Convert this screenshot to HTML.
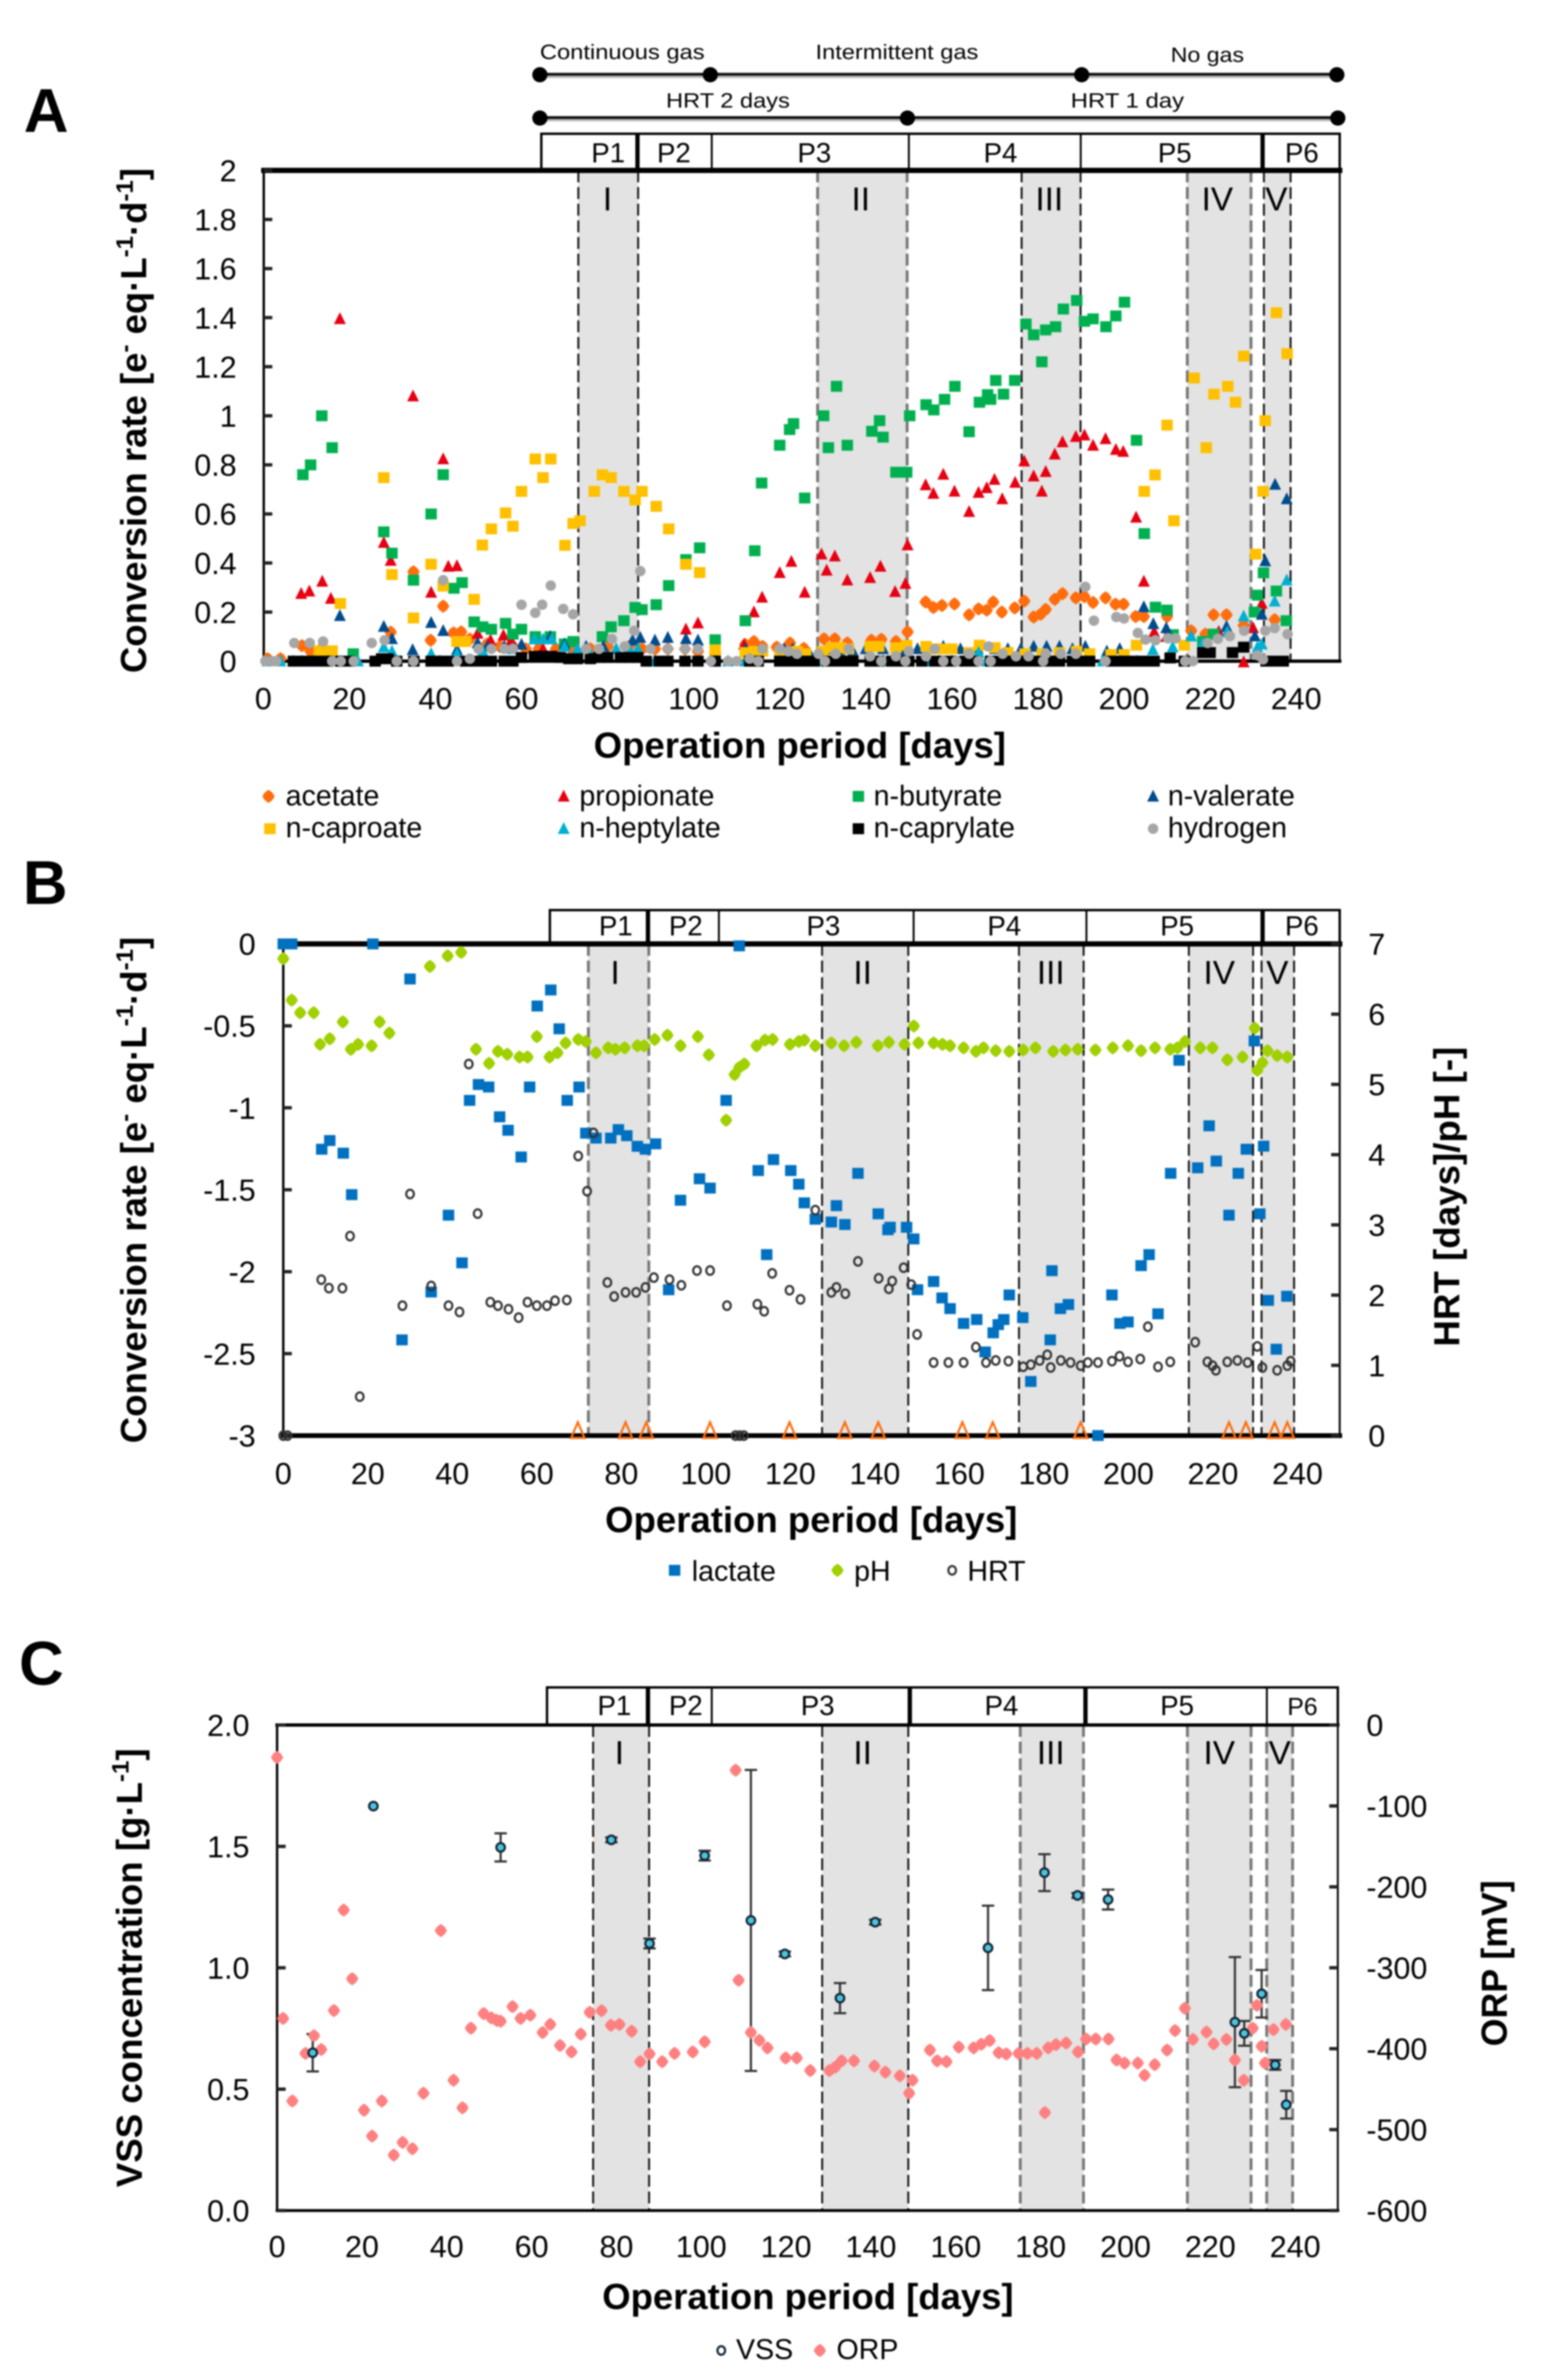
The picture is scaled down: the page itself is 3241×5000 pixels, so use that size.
<!DOCTYPE html>
<html lang="en">
<head>
<meta charset="utf-8">
<title>Operation period charts</title>
<style>
html,body{margin:0;padding:0;background:#fff}
svg{display:block;filter:blur(1.5px)}
text{font-family:"Liberation Sans",Arial,sans-serif;fill:#000}
.tit{font-weight:700;font-size:76px}
.tick{font-size:64px}
.per{font-size:58px}
.rom{font-size:70px}
.ann{font-size:44px}
.leg{font-size:60px}
.pan{font-weight:700;font-size:130px}
</style>
</head>
<body>
<svg id="fig" xmlns="http://www.w3.org/2000/svg" width="3241" height="5000" viewBox="0 0 3241 5000">
<rect width="3241" height="5000" fill="#fff"/>
<g id="shades"></g>
<g id="axes"></g>

<text class="pan" x="50" y="277">A</text>
<text class="pan" x="48" y="1899">B</text>
<text class="pan" x="40" y="3539">C</text>

<g>
<line x1="1134" y1="161" x2="2808" y2="161" stroke="#bbb" stroke-width="6"/>
<line x1="1134" y1="156" x2="2808" y2="156" stroke="#111" stroke-width="6"/>
<line x1="1134" y1="252" x2="2810" y2="252" stroke="#bbb" stroke-width="6"/>
<line x1="1134" y1="247" x2="2810" y2="247" stroke="#111" stroke-width="6"/>
<circle cx="1134" cy="157" r="16"/>
<circle cx="1492" cy="157" r="16"/>
<circle cx="2272" cy="157" r="16"/>
<circle cx="2808" cy="157" r="16"/>
<circle cx="1134" cy="248" r="16"/>
<circle cx="1906" cy="248" r="16"/>
<circle cx="2810" cy="248" r="16"/>
<text class="ann" x="1134" y="124" textLength="346" lengthAdjust="spacingAndGlyphs">Continuous gas</text>
<text class="ann" x="1713" y="124" textLength="342" lengthAdjust="spacingAndGlyphs">Intermittent gas</text>
<text class="ann" x="2459" y="130" textLength="154" lengthAdjust="spacingAndGlyphs">No gas</text>
<text class="ann" x="1399" y="226" textLength="260" lengthAdjust="spacingAndGlyphs">HRT 2 days</text>
<text class="ann" x="2249" y="226" textLength="238" lengthAdjust="spacingAndGlyphs">HRT 1 day</text>
</g>

<text class="tit" x="1247" y="1592" textLength="866" lengthAdjust="spacingAndGlyphs">Operation period [days]</text>
<text class="tit" x="1271" y="3219" textLength="866" lengthAdjust="spacingAndGlyphs">Operation period [days]</text>
<text class="tit" x="1265" y="4851" textLength="864" lengthAdjust="spacingAndGlyphs">Operation period [days]</text>

<text class="tit" transform="translate(307,1414) rotate(-90)" textLength="1061" lengthAdjust="spacingAndGlyphs">Conversion rate [e<tspan dy="-28" font-size="50">-</tspan><tspan dy="28"> eq·L</tspan><tspan dy="-28" font-size="50">-1</tspan><tspan dy="28">·d</tspan><tspan dy="-28" font-size="50">-1</tspan><tspan dy="28">]</tspan></text>
<text class="tit" transform="translate(307,3032) rotate(-90)" textLength="1064" lengthAdjust="spacingAndGlyphs">Conversion rate [e<tspan dy="-28" font-size="50">-</tspan><tspan dy="28"> eq·L</tspan><tspan dy="-28" font-size="50">-1</tspan><tspan dy="28">·d</tspan><tspan dy="-28" font-size="50">-1</tspan><tspan dy="28">]</tspan></text>
<text class="tit" transform="translate(298,4595) rotate(-90)" textLength="922" lengthAdjust="spacingAndGlyphs">VSS concentration [g·L<tspan dy="-28" font-size="50">-1</tspan><tspan dy="28">]</tspan></text>
<text class="tit" transform="translate(3065,2829) rotate(-90)" textLength="630" lengthAdjust="spacingAndGlyphs">HRT [days]/pH [-]</text>
<text class="tit" transform="translate(3165,4299) rotate(-90)" textLength="349" lengthAdjust="spacingAndGlyphs">ORP [mV]</text>

<g id="marks"></g>
<g id="legend"></g>
</svg>

<script>
// ---------- shared categories ----------
var xTickValues = [0,20,40,60,80,100,120,140,160,180,200,220,240];
var yTickLabelsA = ["0","0.2","0.4","0.6","0.8","1","1.2","1.4","1.6","1.8","2"];
var yTickLabelsB = ["0","-0.5","-1","-1.5","-2","-2.5","-3"];
var y2TickLabelsB = ["0","1","2","3","4","5","6","7"];
var yTickLabelsC = ["0.0","0.5","1.0","1.5","2.0"];
var y2TickLabelsC = ["0","-100","-200","-300","-400","-500","-600"];
var periodNames = ["P1","P2","P3","P4","P5","P6"];
var phaseNames = ["I","II","III","IV","V"];
var phaseStartA = [73.2,128.8,176.2,214.7,232.5];
var phaseEndA = [87.1,149.6,189.9,229.5,238.7];
var phaseStartB = [72.2,127.5,174.1,214.3,231.5];
var phaseEndB = [86.5,147.9,189.4,229.5,239.2];
var phaseStartC = [74.5,128.5,175.2,214.6,233.3];
var phaseEndC = [87.7,148.8,190.1,229.6,239.4];

// ---------- panel A series ----------
var acetateDays = [1,4,9,11,13.8,29.6,34.9,38.9,41.8,44.2,
46,48,52,55,58,61,64,68,72,76,
80,85,88,91,94,98,101,105,112,114,
116,119.3,122.4,125.6,130.3,132.8,135.7,141.3,143.6,147,
149.7,153.9,155.7,157.7,160.6,164,166.2,168.1,169.6,171.6,
174.6,176.8,179,180.6,181.8,183.9,185.7,188.8,190.8,192.8,
195.7,198,199.9,202.7,204.6,210,215.6,218.9,220.8,223.8,
227.8,235];
var acetateRates = [.01,.01,.063,.04,.057,.118,.364,.085,.224,.115,
.119,.09,.07,.06,.06,.05,.05,.05,.04,.05,
.06,.06,.05,.05,.05,.05,.04,.03,.068,.08,
.06,.057,.074,.052,.091,.091,.074,.085,.089,.08,
.119,.241,.219,.227,.233,.189,.213,.208,.241,.2,
.217,.245,.18,.191,.211,.252,.275,.258,.263,.239,
.258,.232,.232,.182,.182,.182,.124,.11,.189,.189,
.146,.169];
var propionateDays = [8.8,10.7,13.7,15.7,17.8,28,29.6,34.8,39,41.8,
43,45,49.8,52.8,55.8,57.6,65,87,98.2,101,
111.7,114,115.9,120,122.7,125.8,129.7,130.9,132.8,135.7,
141,143.4,146.8,149.2,149.7,153.9,155.7,158,160.6,164,
166.2,168.1,169.9,171.7,174.7,176.8,179,180.9,181.8,183.9,
185.7,188.8,190.8,192.8,195.7,198.1,199.8,202.8,204.6,207,
209.8,222,227.8,230,232];
var propionateRates = [.275,.285,.325,.255,1.395,.483,.41,1.08,.28,.824,
.386,.388,.113,.085,.105,.085,.05,.05,.13,.155,
.068,.20,.26,.36,.406,.28,.436,.37,.428,.33,
.34,.386,.283,.316,.473,.718,.683,.761,.692,.609,
.687,.706,.74,.661,.728,.815,.754,.692,.772,.843,
.893,.915,.921,.879,.906,.862,.854,.586,.325,.119,
.1,.12,-.004,.135,.235];
var butyrateDays = [9.2,11,13.6,16,20.9,28,29.9,34.9,39,41.8,
44.3,46.2,49,51,53,56.3,58,60,63.2,66.7,
70,72,78.8,80.8,83.8,86.4,88,91.3,94.2,98.2,
101.4,105,112,114.2,115.8,120,122.3,123.2,125.8,130.2,
131.3,133.2,135.7,141.4,143.2,144,147,149.5,150.2,154,
155.8,158.3,160.7,164,166.4,168.3,169,170.2,172,174.6,
177.2,179,180.9,181.8,184.1,185.9,189,190.8,192.8,195.8,
198.1,200.1,202.9,204.7,207.3,210,211.4,218.3,220.8,230.3,
231,232.4,235.4,237.7];
var butyrateRates = [.76,.80,1.0,.87,.03,.527,.44,.33,.60,.76,
.297,.32,.16,.14,.13,.154,.11,.13,.10,.10,
.07,.08,.10,.14,.165,.219,.21,.23,.308,.414,
.462,.087,.165,.45,.726,.88,.944,.968,.665,1.0,
.87,1.12,.88,.937,.98,.913,.77,.77,1.0,1.045,
1.024,1.067,1.12,.935,1.055,1.086,1.067,1.144,1.088,1.144,
1.374,1.33,1.22,1.35,1.363,1.435,1.47,1.385,1.395,1.363,
1.407,1.463,.9,.52,.22,.208,.108,.08,.11,.20,
.269,.36,.286,.165];
var valerateDays = [17.8,28,29.9,34.7,39,41.8,45,49.8,52,56,
60,63,66.7,70,75,79,85.8,87.6,91,94,
98.2,101,112,115,121,123,127,131,134,137,
140,144,148,152,155,158,162,166,170,173,
176,179,182,185,188,191,196,199,204.6,206.8,
209.8,223.8,230.4,232,232.8,235.1,237.8];
var valerateRates = [.185,.141,.091,.046,.157,.124,.046,.074,.06,.06,
.068,.09,.10,.07,.06,.06,.085,.096,.085,.096,
.091,.085,.05,.04,.05,.05,.03,.05,.04,.04,
.05,.05,.04,.05,.05,.06,.05,.05,.05,.05,
.05,.06,.06,.06,.05,.06,.04,.05,.221,.152,
.135,.141,.102,.19,.408,.72,.661];
var caproateDays = [13,14.5,16,17.9,28,29.9,34.9,39,41.8,45,
47,49,50.9,53,56.3,58,60,63.2,65,66.8,
70.1,72,73.6,76.9,78.8,80.8,83.8,86.4,88,91.3,
94.2,98.2,101.4,105,112,114,116,120,122,124,
126,130,132,134,136,141,143,147,149.5,154,
156,158,160,164,166.4,170,173,177,181,185,
189,192,197,200,202.9,204.7,207.2,210,211.6,214,
216.3,219.1,220.9,224.1,225.9,227.8,230.6,232.3,232.8,235.4,
237.9];
var caproateRates = [.042,.042,.042,.235,.748,.353,.176,.395,.306,.08,
.08,.252,.473,.539,.604,.55,.692,.824,.748,.824,
.472,.561,.572,.692,.759,.748,.692,.657,.692,.631,
.539,.395,.361,.046,.035,.04,.04,.03,.03,.04,
.03,.04,.055,.055,.05,.06,.06,.055,.065,.06,
.05,.05,.05,.035,.065,.055,.035,.03,.03,.035,
.04,.03,.027,.027,.065,.692,.759,.962,.572,.065,
1.154,.87,1.088,1.12,1.055,1.243,.436,.692,.98,1.42,
1.253];
var heptylateDays = [1,4,7,9,12,15,18,22,28,29.9,
31,39,41,45,51,58,63,65,67,70,
73,76,79,82,85,87,91,94,98,105,
108,112,115,120,123,130,133,141,144,148,
154,157,160,166.2,168,170,173,176,179,182,
185,188,191,195,199,203,206.7,211.3,215.6,218.3,
224,227.8,231,232,235,237.8];
var heptylateRates = [0,0,0,0,0,0,0,0,.057,.04,
0,.03,0,.03,.04,.05,.09,.09,.09,.06,
.05,.03,.03,.05,.05,.05,0,0,0,0,
0,0,0,0,0,0,0,0,0,0,
0,0,0,.035,0,0,0,0,0,0,
0,0,0,0,0,0,.046,.057,.102,.074,
.119,.183,.057,.069,.244,.33];
var caprylateDays = [7,9,11,13,15,18,20,26,27.5,29,
31,35,39,41,43,47,49,51,53,56,
58,60,63,65,67,69,71,73,76,78,
80,83,85,87,89,92,94,98,101,105,
113,115,120,122,124,126,128,131,133,135,
137,141,143,146,148,150,153,156,158,160,
163,165,169,171,173,175,177,179,181,183,
185,188,190,192,197,199,201,203,205,207,
210.7,214,218.3,220,225.2,227.8,233,235,237];
var caprylateRates = [0,0,0,0,0,0,0,0,.01,.01,
0,0,0,0,0,0,0,0,0,0,
0,.015,.02,.02,.02,.015,.01,.01,.01,.015,
.015,.015,.015,.015,0,0,0,0,0,0,
0,0,0,0,0,0,0,0,0,0,
0,0,0,0,0,0,0,0,0,0,
0,0,0,0,0,0,0,0,0,0,
0,0,0,0,0,0,0,0,0,0,
.013,0,.035,.035,.035,.057,0,0,0];
var hydrogenDays = [0.5,2,3,7.2,10.8,13.9,16,18,21,25.2,
28.2,31,34.9,41.8,45,48,50,53,56,58,
60,63.2,64.8,66.8,69.7,72,75,78,81,84,
86.2,87.6,90,94,98,101,104,108,110,113,
115,116,120,122,124,129,130.5,133,136,141,
143.6,147,149.2,150,154,156,158,161,164,166.2,
168.5,169,171.8,174.9,177.8,181.2,181.8,185.3,188.8,191,
193,195.7,198.2,200,203.2,205,207.3,210.2,212,214.2,
216,219.4,221.8,224.6,227.9,231,232.3,232.8,235,238];
var hydrogenRates = [0,0,0,.074,.074,.08,0,0,0,.074,
.085,0,0,.33,0,.01,.05,.05,.05,.05,
.23,.197,.23,.308,.213,.191,.05,.05,.09,.06,
.124,.367,.05,.05,.05,.05,0,0,0,.01,
0,.05,.05,.04,.03,.03,0,.03,.05,.02,
0,.02,0,.04,.02,.05,0,0,.03,0,
.06,0,.03,.02,.02,0,.03,.03,.03,.303,
.165,0,.18,.174,.115,.088,.085,.093,.093,0,
0,.074,.091,.102,.124,.024,.007,.124,.135,.11];

// ---------- panel B series ----------
var lactateDays = [0,2,9.1,11,14.2,16.2,21.2,28.1,30,35,
39.1,42.3,44.1,46.2,48.6,51.2,53.2,56.3,58.3,60.1,
63.3,65.3,67.2,70,71.6,74,77.5,79.3,81.3,83.8,
85.7,88.1,91.2,94,98.5,101,104.8,107.9,112.4,114.4,
116,120.1,122,123.3,125.9,129.7,130.9,132.9,136,140.8,
143.1,143.6,147.5,149.2,150.1,153.9,155.9,157.8,161,164.1,
166.1,168,169.2,170.5,171.8,175,176.9,181.5,181.9,183.9,
185.8,192.8,196.1,198,199.9,203,204.9,207,210,212,
216.4,219.1,220.8,223.8,226,227.9,229.8,231.1,232,233.1,
235,237.5];
var lactateRates = [0,0,-1.253,-1.2,-1.277,-1.53,0,-2.416,-.214,-2.124,
-1.655,-1.946,-.955,-.858,-.873,-1.055,-1.137,-1.3,-.873,-.379,
-.281,-.518,-.955,-.873,-1.155,-1.185,-1.185,-1.133,-1.17,-1.235,
-1.253,-1.22,-2.11,-1.564,-1.433,-1.49,-.955,-.012,-1.383,-1.896,
-1.316,-1.383,-1.466,-1.58,-1.68,-1.697,-1.597,-1.712,-1.4,-1.647,
-1.744,-1.729,-1.729,-1.8,-2.11,-2.06,-2.16,-2.225,-2.316,-2.292,
-2.49,-2.373,-2.323,-2.292,-2.142,-2.28,-2.67,-2.416,-1.994,-2.225,
-2.2,-3,-2.142,-2.316,-2.307,-1.963,-1.896,-2.257,-1.4,-.71,
-1.366,-1.11,-1.325,-1.655,-1.4,-1.253,-.592,-1.647,-1.234,-2.175,
-2.473,-2.15];
var phDays = [0,2,4,7.2,8.7,11,14.1,16,17.7,20.9,
22.8,25.1,34.7,38.9,42.1,45.6,48.7,50.8,53,55.9,
57.8,60,63,64.9,66.8,69.8,71.6,74,76.9,78.6,
80.8,83.8,85.4,87.9,90.9,94,98.1,100.7,104.8,106.8,
107.9,109.1,112,114,115.8,119.9,122,123.3,125.9,129.7,
132.7,135.6,140.7,143.3,147,149.2,150.3,153.9,156,157.8,
161,163.9,165.7,168.6,171.8,175.1,178,182.2,185.1,188,
192.2,196.3,199.9,203,206.3,209.9,211.6,213.4,217,219.9,
223.4,227,229.9,230.5,231.7,232.9,235.2,237.6];
var phValues = [6.79,6.2,6.02,6.02,5.57,5.65,5.89,5.5,5.57,5.55,
5.89,5.73,6.68,6.83,6.88,5.5,5.3,5.47,5.43,5.39,
5.39,5.68,5.39,5.45,5.59,5.64,5.61,5.45,5.52,5.5,
5.52,5.55,5.55,5.64,5.7,5.55,5.68,5.42,4.49,5.14,
5.24,5.29,5.55,5.63,5.64,5.57,5.61,5.63,5.55,5.59,
5.55,5.6,5.55,5.6,5.57,5.83,5.59,5.59,5.57,5.55,
5.52,5.47,5.52,5.48,5.47,5.49,5.52,5.47,5.49,5.5,
5.49,5.52,5.55,5.48,5.52,5.5,5.52,5.61,5.52,5.52,
5.35,5.39,5.8,5.2,5.31,5.48,5.41,5.39];
var hrtDays = [0,1,9,10.8,14,15.8,18.1,28.2,30,35,
39.1,41.7,43.9,46,49,50.8,53.3,55.7,57.8,60,
62.4,64.3,67.1,69.8,71.9,73.4,76.7,78.3,81,83.5,
85.7,87.7,91.4,94.2,97.9,101,105,107,108,109,
112.2,113.8,115.7,119.8,122.4,125.9,129.7,130.9,133,136,
140.9,143.3,144.1,146.8,148.6,150,153.9,157.4,161,163.9,
166.3,168.6,171.6,175.1,176.9,179,180.8,181.6,184,186.3,
188.7,190.4,192.8,196.1,197.9,199.9,202.8,204.6,207,209.9,
215.8,218.7,219.9,220.7,223.4,225.8,228.2,230.5,231.7,235.2,
237.6,238.4];
var hrtValues = [0,0,2.22,2.1,2.1,2.84,.555,1.85,3.44,2.13,
1.85,1.76,5.29,3.16,1.9,1.85,1.8,1.68,1.9,1.85,
1.85,1.92,1.93,3.98,3.48,4.31,2.18,1.98,2.04,2.04,
2.11,2.25,2.22,2.14,2.35,2.35,1.85,0,0,0,
1.87,1.77,2.31,2.07,1.94,3.21,2.04,2.11,2.02,2.48,
2.24,2.09,2.2,2.39,2.15,1.44,1.04,1.04,1.04,1.26,
1.04,1.07,1.06,.98,1.01,1.07,1.15,.97,1.07,1.04,
.996,1.04,1.04,1.06,1.13,1.05,1.09,1.55,.98,1.05,
1.33,1.05,.996,.93,1.05,1.07,1.04,1.27,.97,.93,
.996,1.06];
var traceDays = [69.7,81,85.9,101,119.8,132.9,140.8,160.7,167.9,188.7,223.8,227.8,234.6,237.6];
var traceRates = [-3,-3,-3,-3,-3,-3,-3,-3,-3,-3,-3,-3,-3,-3];

// ---------- panel C series ----------
var orpDays = [0,1.4,3.6,6.7,8.7,10.4,13.4,15.7,17.7,20.5,
22.4,24.7,27.5,29.6,31.9,34.5,38.6,41.6,43.7,45.7,
48.7,50.5,51.8,52.7,55.5,57.4,59.7,62.6,64.4,66.7,
69.4,71.6,73.7,76.5,78.7,80.7,83.6,85.6,87.8,90.8,
93.7,98,100.8,108.1,108.8,111.7,113.7,115.6,119.9,122.5,
125.7,130.2,131.6,133.1,136,140.8,143.4,146.8,149,149.8,
153.9,155.6,157.8,160.7,164.2,166,168,170.1,171.9,174.8,
176.9,179.1,181,181.8,183.6,186,188.8,190.7,193,196,
197.9,199.8,202.9,204.5,206.9,209.8,211.7,214,215.9,219.1,
220.8,223.8,225.8,227.9,230,231,232.1,232.9,234.9,237.8];
var orpValues = [-40,-362.6,-464.6,-405.8,-384,-401,-352.9,-228.7,-313.5,-476,
-508,-464.6,-531.5,-515.8,-523.6,-455,-254,-439,-473,-374.6,
-356.6,-361.9,-365,-366,-348,-362.6,-358.5,-380,-370,-396,
-404,-382,-355,-353,-371,-370,-378.4,-416,-406.5,-416,
-405.8,-404,-391.5,-55.8,-315.4,-380,-389.7,-399,-411.4,-411.4,
-427,-427,-422.7,-415,-415,-421.5,-429,-433.5,-455,-439,
-401.7,-415,-416,-398,-399,-394.5,-390,-405,-406.5,-405.8,
-405.8,-405.8,-479,-399,-395,-393,-404,-388,-388,-388,
-414,-417.8,-417.8,-432.8,-419.7,-401.7,-377.6,-350,-388.5,-379.5,
-394,-388.5,-414,-439,-374.6,-346.5,-397,-417.8,-376.5,-370];
var vssDays = [8.4,22.7,52.7,78.8,87.8,100.8,111.7,119.7,132.7,141,167.6,180.9,188.7,195.9,225.8,228,232.1,235.3,237.9];
var vssValues = [.65,1.666,1.496,1.527,1.1,1.462,1.195,1.057,.875,1.188,1.082,1.392,1.298,1.281,.776,.73,.893,.6,.436];
var vssErrors = [.077,0,.058,.01,.02,.02,.62,.01,.062,.01,.174,.076,.01,.041,.268,.051,.098,.02,.057];

// ---------- axis functions ----------
function xA(d){return 553+d*9.04;}
function yA(v){return 1389-v*515.5;}
function xB(d){return 595+d*8.876;}
function yB(v){return 1983-v*344.3;}
function y2B(v){return 3016-v*147.57;}
function xC(d){return 582+d*8.91;}
function yC(v){return 4644-v*510;}
function y2C(v){return 3624-v*1020/600;}

var NS = "http://www.w3.org/2000/svg";
var shades = document.getElementById("shades");
var axes = document.getElementById("axes");
var marks = document.getElementById("marks");
var legend = document.getElementById("legend");

function svgEl(tag, attrs, parent){
  var el = document.createElementNS(NS, tag);
  for (var k in attrs) el.setAttribute(k, attrs[k]);
  parent.appendChild(el);
  return el;
}
function shapePath(shape, cx, cy){
  if (shape === "square") return "M"+(cx-12)+" "+(cy-11.5)+"h24v23h-24z";
  if (shape === "tri") return "M"+cx+" "+(cy-14)+"L"+(cx+12.5)+" "+(cy+11)+"H"+(cx-12.5)+"z";
  if (shape === "triTall") return "M"+cx+" "+(cy-28)+"L"+(cx+14)+" "+(cy+5)+"H"+(cx-14)+"z";
  if (shape === "dia") return "M"+cx+" "+(cy-14)+"L"+(cx+8)+" "+(cy-8)+"L"+(cx+13)+" "+cy+"L"+(cx+8)+" "+(cy+8)+"L"+cx+" "+(cy+14)+"L"+(cx-8)+" "+(cy+8)+"L"+(cx-13)+" "+cy+"L"+(cx-8)+" "+(cy-8)+"z";
  if (shape === "ring") return "M"+(cx-8)+" "+cy+"a8 9 0 1 0 16 0a8 9 0 1 0 -16 0z";
  return "M"+(cx-11)+" "+cy+"a11 11 0 1 0 22 0a11 11 0 1 0 -22 0z";
}
function drawSeries(days, vals, xf, yf, shape, color, name, stroke){
  var g = svgEl("g", {}, marks);
  
  
  for (var i = 0; i < days.length; i++){
    var el = svgEl("path", {d: shapePath(shape, xf(days[i]), yf(vals[i])), fill: stroke ? "none" : color}, g);
    if (stroke){ el.setAttribute("stroke", stroke); el.setAttribute("stroke-width", "4.5"); }
    
    
  }
}
function drawPhases(starts, ends, xf, top, bottom, romanBaseline, romanX, panel, greyFlags){
  for (var i = 0; i < starts.length; i++){
    var x0 = xf(starts[i]), x1 = xf(ends[i]);
    var r = svgEl("rect", {x:x0, y:top, width:x1-x0, height:bottom-top, fill:"#e3e3e3"}, shades);
    
    
    [x0, x1].forEach(function(x){
      var l = svgEl("line", {x1:x, x2:x, y1:top, y2:bottom, stroke:greyFlags[i] ? "#777" : "#111", "stroke-width":greyFlags[i] ? 6 : 4, "stroke-dasharray":"25 10"}, shades);
      
      
    });
    var t = svgEl("text", {x:romanX[i], y:romanBaseline, "text-anchor":"middle", "class":"rom"}, shades);
    t.textContent = phaseNames[i];
    
    
  }
}
function drawPeriodBox(top, bottom, edges, thick, baseline, textX, panel, smallLast){
  var outer = svgEl("rect", {x:edges[0], y:top, width:edges[edges.length-1]-edges[0], height:bottom-top, fill:"#fff", stroke:"#000", "stroke-width":5}, axes);
  
  
  for (var i = 1; i < edges.length-1; i++){
    var l = svgEl("line", {x1:edges[i], x2:edges[i], y1:top, y2:bottom, stroke:"#000", "stroke-width":thick[i] ? 9 : 4}, axes);
    
    
  }
  for (var j = 0; j < periodNames.length; j++){
    var t = svgEl("text", {x:textX[j], y:baseline, "class":"per"}, axes);
    if (smallLast && j === periodNames.length-1) t.setAttribute("style", "font-size:52px");
    t.textContent = periodNames[j];
    
    
  }
}
function drawFrame(left, top, right, bottom, topW, leftW, botW, rightW, panel){
  var pieces = [[left,top,right,top,topW],[left,top,left,bottom,leftW],[left,bottom,right,bottom,botW],[right,top,right,bottom,rightW]];
  var names = ['top','left','bottom','right'];
  pieces.forEach(function(p, i){
    var l = svgEl("line", {x1:p[0], y1:p[1], x2:p[2], y2:p[3], stroke:"#000", "stroke-width":p[4], "stroke-linecap":"square"}, axes);
    
    
  });
}
function drawYTicks(labels, yf, side, axisX, textX, panel){
  labels.forEach(function(lab){
    var v = parseFloat(lab), y = yf(v);
    var tk = svgEl("line", {x1:axisX, x2:axisX + (side === "left" ? 18 : -18), y1:y, y2:y, stroke:"#222", "stroke-width":7}, axes);
    
    
    var t = svgEl("text", {x:textX, y:y+23, "class":"tick", "text-anchor":side === "left" ? "end" : "start"}, axes);
    t.textContent = lab;
    
    
  });
}
function drawXLabels(xf, baseline, panel){
  xTickValues.forEach(function(d){
    var t = svgEl("text", {x:xf(d), y:baseline, "class":"tick", "text-anchor":"middle"}, axes);
    t.textContent = String(d);
    
    
  });
}
function legendEntry(cx, cy, shape, color, label, tx, by, stroke){
  var m = svgEl("path", {d: shapePath(shape, cx, cy), fill: stroke ? "none" : color}, legend);
  if (stroke){ m.setAttribute("stroke", stroke); m.setAttribute("stroke-width", "4.5"); }
  
  
  var t = svgEl("text", {x:tx, y:by, "class":"leg"}, legend);
  t.textContent = label;
  
  
}

// ---------- panel A ----------
drawPhases(phaseStartA, phaseEndA, xA, 358, 1389, 442, [1276,1808,2204,2557,2681], "a", [0,1,0,1,0]);
drawPeriodBox(281, 358, [1137,1339,1495,1909,2270,2652,2814], [0,1,0,0,0,1,0], 341, [1242,1380,1675,2066,2432,2699], "a", false);
drawFrame(554, 358, 2814, 1389, 11, 5, 7, 4, "a");
drawYTicks(yTickLabelsA, yA, "left", 554, 497, "a");
drawXLabels(xA, 1490, "a");
drawSeries(acetateDays, acetateRates, xA, yA, "dia", "#ff6d0d", "acetate");
drawSeries(propionateDays, propionateRates, xA, yA, "tri", "#e60012", "propionate");
drawSeries(butyrateDays, butyrateRates, xA, yA, "square", "#00b050", "n-butyrate");
drawSeries(valerateDays, valerateRates, xA, yA, "tri", "#004b8d", "n-valerate");
drawSeries(caproateDays, caproateRates, xA, yA, "square", "#ffc000", "n-caproate");
drawSeries(heptylateDays, heptylateRates, xA, yA, "tri", "#00b0d0", "n-heptylate");
drawSeries(caprylateDays, caprylateRates, xA, yA, "square", "#000000", "n-caprylate");
drawSeries(hydrogenDays, hydrogenRates, xA, yA, "circle", "#a6a6a6", "hydrogen");
legendEntry(564, 1673, "dia", "#ff6d0d", "acetate", 600, 1692);
legendEntry(1184, 1673, "tri", "#e60012", "propionate", 1217, 1692);
legendEntry(1803, 1673, "square", "#00b050", "n-butyrate", 1835, 1692);
legendEntry(2422, 1673, "tri", "#004b8d", "n-valerate", 2453, 1692);
legendEntry(567, 1741, "square", "#ffc000", "n-caproate", 600, 1759);
legendEntry(1184, 1741, "tri", "#00b0d0", "n-heptylate", 1217, 1759);
legendEntry(1803, 1741, "square", "#000000", "n-caprylate", 1835, 1759);
legendEntry(2422, 1741, "circle", "#a6a6a6", "hydrogen", 2453, 1759);

// ---------- panel B ----------
drawPhases(phaseStartB, phaseEndB, xB, 1983, 3016, 2067, [1292,1812,2207,2561,2683], "b", [1,0,0,0,0]);
drawPeriodBox(1912, 1983, [1155,1361,1510,1919,2282,2652,2814], [0,1,0,0,0,1,0], 1965, [1258,1405,1694,2074,2437,2699], "b", false);
drawFrame(595, 1983, 2814, 3016, 11, 5, 10, 4, "b");
drawYTicks(yTickLabelsB, yB, "left", 595, 537, "b");
drawYTicks(y2TickLabelsB, y2B, "right", 2814, 2874, "b-secondary");
drawXLabels(xB, 3118, "b");
drawSeries(traceDays, traceRates, xB, yB, "triTall", "#ff6d0d", "trace-marker", "#ff6d0d");
drawSeries(lactateDays, lactateRates, xB, yB, "square", "#0070c0", "lactate");
drawSeries(phDays, phValues, xB, y2B, "dia", "#a0d000", "ph");
drawSeries(hrtDays, hrtValues, xB, y2B, "ring", "none", "hrt", "#333");
legendEntry(1417, 3299, "square", "#0070c0", "lactate", 1453, 3321);
legendEntry(1759, 3299, "dia", "#a0d000", "pH", 1794, 3321);
legendEntry(2000, 3299, "ring", "none", "HRT", 2032, 3321, "#333");

// ---------- panel C ----------
drawPhases(phaseStartC, phaseEndC, xC, 3624, 4644, 3706, [1301,1812,2207,2561,2688], "c", [0,0,1,1,1]);
drawPeriodBox(3545, 3624, [1149,1361,1495,1911,2280,2661,2810], [0,1,0,1,1,0,0], 3603, [1255,1405,1682,2068,2437,2704], "c", true);
drawFrame(582, 3624, 2810, 4644, 7, 5, 6, 4, "c");
drawYTicks(yTickLabelsC, yC, "left", 582, 524, "c");
drawYTicks(y2TickLabelsC, y2C, "right", 2810, 2870, "c-secondary");
drawXLabels(xC, 4742, "c");
vssDays.forEach(function(d, i){
  if (!vssErrors[i]) return;
  var x = xC(d), hi = yC(vssValues[i] + vssErrors[i]), lo = yC(vssValues[i] - vssErrors[i]);
  var bar = svgEl("path", {d:"M"+x+" "+hi+"V"+lo+"M"+(x-13)+" "+hi+"H"+(x+13)+"M"+(x-13)+" "+lo+"H"+(x+13), stroke:"#333", "stroke-width":4.5, fill:"none"}, marks);
  
  
});
drawSeries(orpDays, orpValues, xC, y2C, "dia", "#ff8080", "orp");
vssDays.forEach(function(d, i){
  var c = svgEl("circle", {cx:xC(d), cy:yC(vssValues[i]), r:9, fill:"#4bc4dc", stroke:"#123", "stroke-width":4.5}, marks);
  
  
});
legendEntry(1515, 4938, "ring", "#4bc4dc", "VSS", 1546, 4956, "#123");
legendEntry(1722, 4938, "dia", "#ff8080", "ORP", 1757, 4956);
</script>
</body>
</html>
